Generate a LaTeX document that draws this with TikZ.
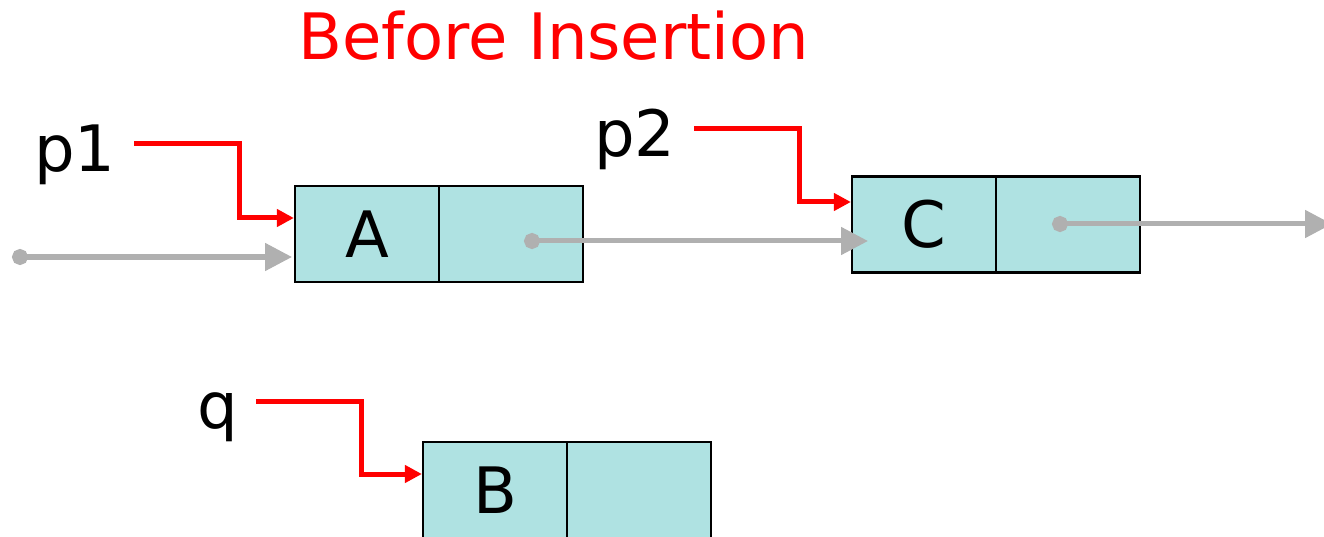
\documentclass[tikz,border=0pt]{standalone}
\usepackage{fontspec}
\setmainfont{DejaVu Sans}
\usetikzlibrary{arrows.meta}
\definecolor{cellfill}{HTML}{AFE2E2}
\definecolor{ptrgray}{HTML}{B0B0B0}
\definecolor{ptrred}{HTML}{FF0000}
\tikzset{
  cell/.style={draw=black, line width=2.2pt, fill=cellfill, minimum width=144pt, minimum height=96pt, inner sep=0pt, font=\fontsize{64}{64}\selectfont},
  lbl/.style={inner sep=0pt, anchor=base west, font=\fontsize{64}{64}\selectfont},
  redptr/.style={draw=ptrred, line width=5pt, miter limit=10, -{Triangle[length=17pt,width=17pt]}},
  grayptr/.style={draw=ptrgray, line width=5pt, {Circle[length=16pt]}-{Triangle[length=27pt,width=27pt]}}
}
\begin{document}
\begin{tikzpicture}[x=1pt,y=-1pt]
\useasboundingbox (0,0) rectangle (1324,537);
% title
\node[inner sep=0pt, anchor=base, text=ptrred, font=\fontsize{64}{64}\selectfont] (title) at (554,60) {Before Insertion};
% cells
\node[cell] (Adata) at (367,234) {\raisebox{-3pt}{A}};
\node[cell] (Anext) at (511,234) {};
\node[cell] (Cdata) at (924,224.5) {\raisebox{-3pt}{C}};
\node[cell] (Cnext) at (1068,224.5) {};
\node[cell] (Bdata) at (495,490) {B};
\node[cell] (Bnext) at (639,490) {};
% pointer labels
\node[lbl] (p1) at (34,172) {p1};
\node[lbl] (p2) at (594,157) {p2};
\node[lbl] (q) at (197,428) {q};
% red pointer connectors
\coordinate (p1s) at (134,144);
\coordinate (p2s) at (694,129);
\coordinate (qs) at (256,401);
\draw[redptr] (p1s) -- (239,144) |- ([yshift=16pt]Adata.west);
\draw[redptr] (p2s) -- (799,129) |- ([yshift=22.5pt]Cdata.west);
\draw[redptr] (qs) -- (361,401) |- ([yshift=16pt]Bdata.west);
% gray next pointers
\coordinate (inS) at (12,257);
\coordinate (inE) at (292,257);
\coordinate (ADot) at (524,241);
\coordinate (CIn) at (868,241);
\coordinate (CDot) at (1052,224);
\coordinate (COut) at (1332,224);
\draw[grayptr] (inS) -- (inE);
\draw[grayptr] (ADot) -- (CIn);
\draw[grayptr] (CDot) -- (COut);
\end{tikzpicture}
\end{document}
